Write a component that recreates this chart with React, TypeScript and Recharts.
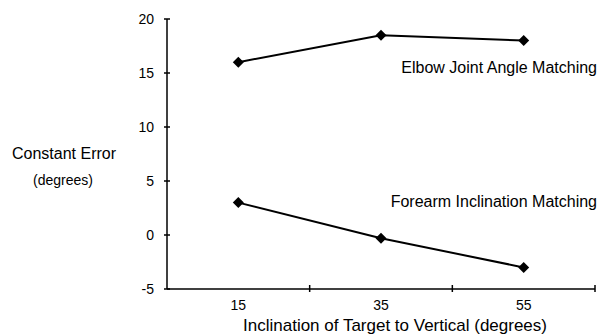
import { LineChart, Line, XAxis, YAxis, Label, ReferenceDot } from "recharts";

const angles = [15, 35, 55];
const elbowError = [16.0, 18.5, 18.0];
const forearmError = [3.0, -0.3, -3.0];
const yTicks = [-5, 0, 5, 10, 15, 20];
const xTicks = [5, 15, 25, 35, 45, 55, 65];
const labelledAngles = [15, 35, 55];

const data = angles.map((a, i) => ({
  angle: a,
  elbow: elbowError[i],
  forearm: forearmError[i],
}));

const FONT = "'Liberation Sans', Arial, Helvetica, sans-serif";

// filled diamond marker
const Diamond = (props: any) => {
  const { cx, cy, index } = props;
  if (cx == null || cy == null) return <g key={index} />;
  const r = 5.5;
  return (
    <path
      key={index}
      d={`M${cx},${cy - r}L${cx + r},${cy}L${cx},${cy + r}L${cx - r},${cy}Z`}
      fill="#000"
    />
  );
};

const YTick = ({ x, y, payload }: any) => (
  <g>
    <line x1={x - 3} x2={x + 3} y1={y} y2={y} stroke="#000" strokeWidth={1.5} />
    <text x={x - 13} y={y + 5} textAnchor="end" fontSize={14} fontFamily={FONT} fill="#000">
      {payload.value}
    </text>
  </g>
);

const XTick = ({ x, y, payload }: any) => {
  if (payload.value === 5) return <g />;
  if (labelledAngles.includes(payload.value)) {
    return (
      <text x={x} y={y + 21} textAnchor="middle" fontSize={14} fontFamily={FONT} fill="#000">
        {payload.value}
      </text>
    );
  }
  return <line x1={x} x2={x} y1={y - 4} y2={y + 3} stroke="#000" strokeWidth={1.5} />;
};

const seriesLabel = (text: string) => (props: any) => {
  const { viewBox } = props;
  return (
    <text
      x={viewBox.x + 2}
      y={viewBox.y + 5}
      textAnchor="end"
      fontSize={16}
      fontFamily={FONT}
      fill="#000"
    >
      {text}
    </text>
  );
};

export default function App() {
  return (
    <div style={{ position: "absolute", left: 0, top: 0, width: 602, height: 334, background: "#fff" }}>
      <LineChart
        width={602}
        height={334}
        data={data}
        margin={{ top: 19, right: 7, bottom: 15, left: 0 }}
      >
        <XAxis
          dataKey="angle"
          type="number"
          domain={[5, 65]}
          ticks={xTicks}
          interval={0}
          height={30}
          tickSize={0}
          tickMargin={0}
          tick={<XTick />}
          axisLine={{ stroke: "#000", strokeWidth: 1.5 }}
        >
          <Label
            content={() => (
              <text x={395} y={331} textAnchor="middle" fontSize={17} fontFamily={FONT} fill="#000">
                Inclination of Target to Vertical (degrees)
              </text>
            )}
          />
        </XAxis>
        <YAxis
          type="number"
          domain={[-5, 20]}
          ticks={yTicks}
          interval={0}
          width={167}
          tickSize={0}
          tickMargin={0}
          tick={<YTick />}
          axisLine={{ stroke: "#000", strokeWidth: 1.5 }}
        >
          <Label
            content={() => (
              <g>
                <text x={64} y={159} textAnchor="middle" fontSize={16} fontFamily={FONT} fill="#000">
                  Constant Error
                </text>
                <text x={63} y={185} textAnchor="middle" fontSize={14} fontFamily={FONT} fill="#000">
                  (degrees)
                </text>
              </g>
            )}
          />
        </YAxis>
        <Line
          dataKey="elbow"
          stroke="#000"
          strokeWidth={2}
          dot={<Diamond />}
          activeDot={false}
          isAnimationActive={false}
        />
        <Line
          dataKey="forearm"
          stroke="#000"
          strokeWidth={2}
          dot={<Diamond />}
          activeDot={false}
          isAnimationActive={false}
        />
        <ReferenceDot x={65} y={15.5} r={0} label={seriesLabel("Elbow Joint Angle Matching")} />
        <ReferenceDot x={65} y={3.05} r={0} label={seriesLabel("Forearm Inclination Matching")} />
      </LineChart>
    </div>
  );
}
